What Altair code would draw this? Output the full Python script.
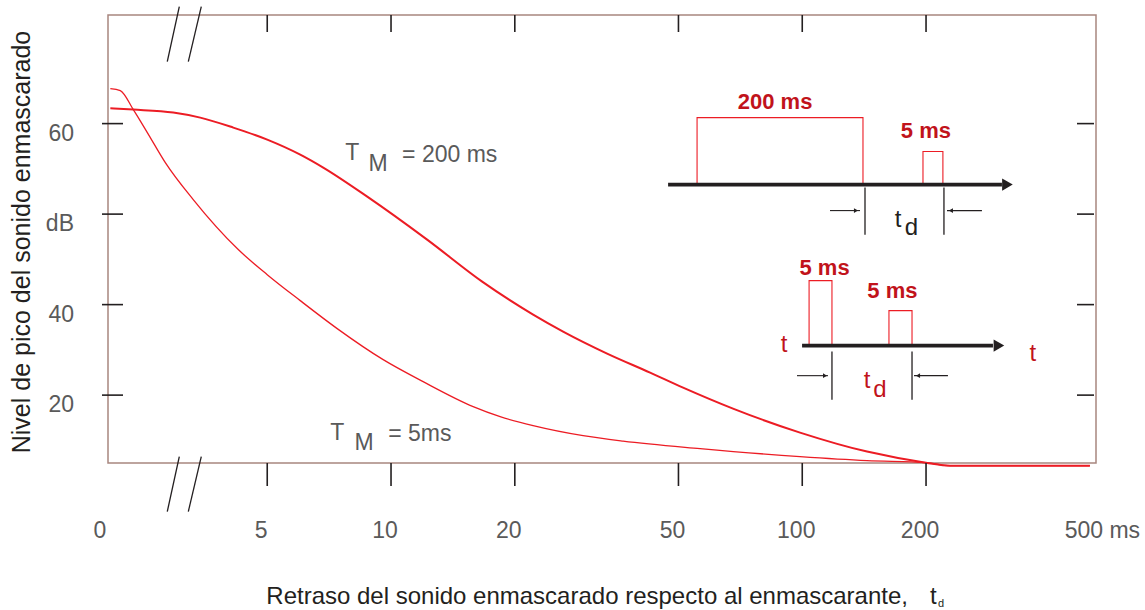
import altair as alt
import pandas as pd

# ---------------- data (x = delay in ms on a log axis, y = level in axis units) ----------------
delay_200 = [2.077, 2.362, 2.954, 3.436, 4.134, 5.0, 6.015, 6.841, 8.753, 12.24, 16.66, 22.16,
             26.21, 33.53, 42.66, 51.31, 67.86, 98.77, 143.7, 199.9, 228.7, 500.6]
level_200 = [61.69, 61.55, 61.22, 60.66, 59.56, 58.23, 56.57, 55.14, 51.93, 47.18, 42.54, 38.90,
             37.02, 34.59, 32.49, 30.83, 28.51, 25.86, 23.76, 22.54, 22.21, 22.21]

delay_5 = [2.077, 2.196, 2.362, 2.555, 2.826, 3.304, 4.251, 5.0, 6.015, 7.398, 9.57, 11.97,
           15.84, 18.42, 22.16, 29.32, 36.67, 56.43, 98.77, 143.7, 199.9, 228.7, 500.6]
level_5 = [63.87, 63.65, 61.55, 59.01, 55.69, 51.60, 46.08, 43.31, 40.44, 37.35, 33.92, 31.49,
           28.73, 27.62, 26.63, 25.52, 24.92, 24.09, 23.20, 22.76, 22.54, 22.21, 22.21]

x_tick_values = [5, 10, 20, 50, 100, 200]
x_label_values = [5, 10, 20, 50, 100, 200]
x_label_texts = ["5", "10", "20", "50", "100", "200"]
x_last_value = [500]
x_last_text = ["500 ms"]
y_tick_values = [60, 50, 40, 30]
y_label_texts = ["60", "dB", "40", "20"]

# axis-break marks "//"
break_x = [2.857, 3.214, 2.857, 3.214]
break_x2 = [3.056, 3.456, 3.056, 3.456]
break_y = [66.85, 66.85, 17.13, 17.13]
break_y2 = [72.93, 72.93, 23.20, 23.20]

# inset diagrams (in chart units)
rect_x = [55.49, 196.6, 103.9, 162.5]
rect_x2 = [140.5, 219.8, 118.1, 184.9]
rect_top = [60.66, 56.91, 42.65, 39.34]
rect_base = [53.26, 53.26, 35.47, 35.47]

shaft_x = [47.18, 99.9]
shaft_x2 = [305.9, 290.9]
shaft_y = [53.26, 35.47]
head_x = [315.5, 300.8]

mark_x = [142.1, 221.1, 118.1, 184.9]
mark_top = [52.93, 52.93, 34.81, 34.81]
mark_bot = [47.73, 47.73, 29.50, 29.50]

small_x = [116.8, 224.9, 97.1, 187.0]
small_x2 = [138.2, 273.5, 115.5, 226.1]
small_y = [50.39, 50.39, 32.15, 32.15]
small_head_r_x = [135.1, 113.6]
small_head_r_y = [50.39, 32.15]
small_head_l_x = [229.9, 191.2]
small_head_l_y = [50.39, 32.15]

dur_text = ["200 ms", "5 ms", "5 ms", "5 ms"]
dur_x = [85.9, 199.9, 113.3, 165.7]
dur_y = [62.38, 59.23, 44.03, 41.55]

t_red_x = [90.3, 363.8, 143.7]
t_red_y = [35.58, 34.59, 31.60]
d_red_x = [154.5]
d_red_y = [30.61]
t_blk_x = [170.9]
t_blk_y = [49.39]
d_blk_x = [184.4]
d_blk_y = [48.51]

tm_T_x = [8.045, 7.398]
tm_T_y = [56.80, 25.86]
tm_M_x = [9.307, 8.605]
tm_M_y = [55.58, 24.75]
tm_eq_text = ["= 200 ms", "= 5ms"]
tm_eq_x = [10.64, 9.842]
tm_eq_y = [56.57, 25.75]

# ---------------- styling ----------------
RED = "#ec1c24"
DARKRED = "#c1131b"
BLACK = "#231f20"
GRAY = "#5a5a5a"
FRAME = "#a8867f"
FONT = "Liberation Sans"

X_SCALE = alt.Scale(type="log", domain=[2.05, 518], nice=False)
Y_SCALE = alt.Scale(domain=[22.5, 72.0], nice=False, zero=False)


def X(f):
    return alt.X(f"{f}:Q", scale=X_SCALE, axis=None)


def Y(f):
    return alt.Y(f"{f}:Q", scale=Y_SCALE, axis=None)


df200 = pd.DataFrame({"delay": delay_200, "level": level_200})
df5 = pd.DataFrame({"delay": delay_5, "level": level_5})

line200 = alt.Chart(df200).mark_line(interpolate="monotone", color=RED, strokeWidth=2).encode(
    x=X("delay"), y=Y("level"))
line5 = alt.Chart(df5).mark_line(interpolate="monotone", color=RED, strokeWidth=1.3).encode(
    x=X("delay"), y=Y("level"))

# tick marks
dx = pd.DataFrame({"v": x_tick_values})
dy = pd.DataFrame({"v": y_tick_values})
tick_style = dict(color=BLACK, strokeWidth=1.6)
top_ticks = alt.Chart(dx).mark_rule(**tick_style).encode(x=X("v"), y=alt.value(0), y2=alt.value(17))
bot_ticks = alt.Chart(dx).mark_rule(**tick_style).encode(x=X("v"), y=alt.value(448), y2=alt.value(471))
left_ticks = alt.Chart(dy).mark_rule(**tick_style).encode(y=Y("v"), x=alt.value(-6), x2=alt.value(15))
right_ticks = alt.Chart(dy).mark_rule(**tick_style).encode(y=Y("v"), x=alt.value(969), x2=alt.value(986))

# tick labels
xl = pd.DataFrame({"v": x_label_values, "t": x_label_texts})
x_labels = alt.Chart(xl).mark_text(font=FONT, fontSize=23, color=GRAY, align="center",
                                   baseline="middle", dx=-6).encode(
    x=X("v"), y=alt.value(516), text="t:N")
xl_last = pd.DataFrame({"v": x_last_value, "t": x_last_text})
x_label_last = alt.Chart(xl_last).mark_text(font=FONT, fontSize=23, color=GRAY, align="left",
                                            baseline="middle", dx=-25).encode(
    x=X("v"), y=alt.value(516), text="t:N")
yl = pd.DataFrame({"v": y_tick_values, "t": y_label_texts})
y_labels = alt.Chart(yl).mark_text(font=FONT, fontSize=23, color=GRAY, align="right",
                                   baseline="middle", dy=10).encode(
    y=Y("v"), x=alt.value(-34), text="t:N")

breaks = alt.Chart(pd.DataFrame({"x": break_x, "x2": break_x2, "y": break_y, "y2": break_y2})).mark_rule(
    color=BLACK, strokeWidth=1.3).encode(x=X("x"), x2="x2:Q", y=Y("y"), y2="y2:Q")

# inset diagrams
rects = alt.Chart(pd.DataFrame({"x": rect_x, "x2": rect_x2, "y": rect_top, "y2": rect_base})).mark_rect(
    filled=False, stroke=RED, strokeWidth=1.1).encode(x=X("x"), x2="x2:Q", y=Y("y"), y2="y2:Q")
shafts = alt.Chart(pd.DataFrame({"x": shaft_x, "x2": shaft_x2, "y": shaft_y})).mark_rule(
    color=BLACK, strokeWidth=3.6).encode(x=X("x"), x2="x2:Q", y=Y("y"))
heads = alt.Chart(pd.DataFrame({"x": head_x, "y": shaft_y})).mark_point(
    shape="triangle-right", filled=True, color=BLACK, opacity=1, size=150).encode(x=X("x"), y=Y("y"))
markers = alt.Chart(pd.DataFrame({"x": mark_x, "y": mark_top, "y2": mark_bot})).mark_rule(
    color=BLACK, strokeWidth=1.3).encode(x=X("x"), y=Y("y"), y2="y2:Q")
smalls = alt.Chart(pd.DataFrame({"x": small_x, "x2": small_x2, "y": small_y})).mark_rule(
    color=BLACK, strokeWidth=1.1).encode(x=X("x"), x2="x2:Q", y=Y("y"))
small_r = alt.Chart(pd.DataFrame({"x": small_head_r_x, "y": small_head_r_y})).mark_point(
    shape="triangle-right", filled=True, color=BLACK, opacity=1, size=22).encode(x=X("x"), y=Y("y"))
small_l = alt.Chart(pd.DataFrame({"x": small_head_l_x, "y": small_head_l_y})).mark_point(
    shape="triangle-left", filled=True, color=BLACK, opacity=1, size=22).encode(x=X("x"), y=Y("y"))

dur = alt.Chart(pd.DataFrame({"x": dur_x, "y": dur_y, "t": dur_text})).mark_text(
    font=FONT, fontSize=22, fontWeight="bold", color=DARKRED, align="center", baseline="middle").encode(
    x=X("x"), y=Y("y"), text="t:N")
t_red = alt.Chart(pd.DataFrame({"x": t_red_x, "y": t_red_y})).mark_text(
    font=FONT, fontSize=24, color=DARKRED, text="t", align="center", baseline="middle").encode(x=X("x"), y=Y("y"))
d_red = alt.Chart(pd.DataFrame({"x": d_red_x, "y": d_red_y})).mark_text(
    font=FONT, fontSize=24, color=DARKRED, text="d", align="center", baseline="middle").encode(x=X("x"), y=Y("y"))
t_blk = alt.Chart(pd.DataFrame({"x": t_blk_x, "y": t_blk_y})).mark_text(
    font=FONT, fontSize=24, color=BLACK, text="t", align="center", baseline="middle").encode(x=X("x"), y=Y("y"))
d_blk = alt.Chart(pd.DataFrame({"x": d_blk_x, "y": d_blk_y})).mark_text(
    font=FONT, fontSize=24, color=BLACK, text="d", align="center", baseline="middle").encode(x=X("x"), y=Y("y"))

tm_T = alt.Chart(pd.DataFrame({"x": tm_T_x, "y": tm_T_y})).mark_text(
    font=FONT, fontSize=23, color=GRAY, text="T", align="center", baseline="middle").encode(x=X("x"), y=Y("y"))
tm_M = alt.Chart(pd.DataFrame({"x": tm_M_x, "y": tm_M_y})).mark_text(
    font=FONT, fontSize=23, color=GRAY, text="M", align="center", baseline="middle").encode(x=X("x"), y=Y("y"))
tm_eq = alt.Chart(pd.DataFrame({"x": tm_eq_x, "y": tm_eq_y, "t": tm_eq_text})).mark_text(
    font=FONT, fontSize=23, color=GRAY, align="left", baseline="middle").encode(x=X("x"), y=Y("y"), text="t:N")

# axis titles and the "0" label
one = pd.DataFrame({"k": [0]})
zero_lbl = alt.Chart(one).mark_text(font=FONT, fontSize=23, color=GRAY, align="center", baseline="middle",
                                    text="0").encode(x=alt.value(-8), y=alt.value(516))
xtitle = alt.Chart(one).mark_text(font=FONT, fontSize=24, color=BLACK, align="right", baseline="middle",
                                  text="Retraso del sonido enmascarado respecto al enmascarante,").encode(
    x=alt.value(800), y=alt.value(582))
xtitle_t = alt.Chart(one).mark_text(font=FONT, fontSize=24, color=BLACK, align="left", baseline="middle",
                                    text="t").encode(x=alt.value(822), y=alt.value(582))
xtitle_d = alt.Chart(one).mark_text(font=FONT, fontSize=11, color=BLACK, align="left", baseline="middle",
                                    text="d").encode(x=alt.value(830), y=alt.value(589))
ytitle = alt.Chart(one).mark_text(font=FONT, fontSize=25, color=BLACK, align="center", baseline="middle",
                                  angle=270, text="Nivel de pico del sonido enmascarado").encode(
    x=alt.value(-86), y=alt.value(227))

chart = alt.layer(
    line200, line5, top_ticks, bot_ticks, left_ticks, right_ticks, breaks,
    x_labels, x_label_last, y_labels,
    rects, shafts, heads, markers, smalls, small_r, small_l,
    dur, t_red, d_red, t_blk, d_blk, tm_T, tm_M, tm_eq,
    zero_lbl, xtitle, xtitle_t, xtitle_d, ytitle,
).properties(
    width=988, height=448,
    padding={"left": 108, "top": 15, "right": 49, "bottom": 147},
    autosize=alt.AutoSizeParams(type="none"),
).configure_view(stroke=FRAME, strokeWidth=1.5)

chart.save("out.html", embed_options={"renderer": "svg", "actions": False})
